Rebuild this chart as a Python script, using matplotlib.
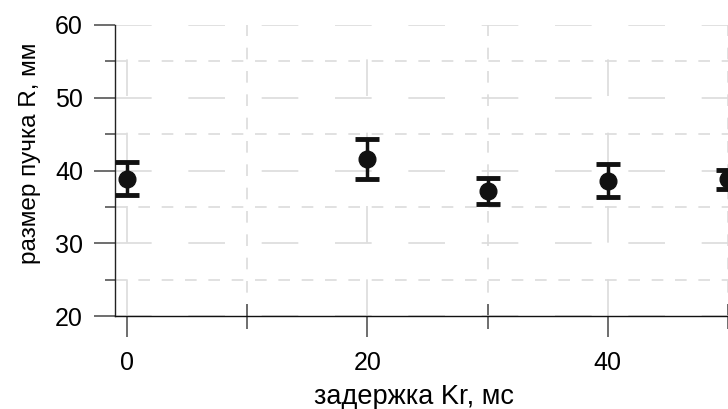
import numpy as np
import matplotlib
matplotlib.use("Agg")
import matplotlib.pyplot as plt
from matplotlib.ticker import MultipleLocator

plt.rcParams['font.family'] = ['Liberation Sans', 'DejaVu Sans']

# Data
delay = [0, 20, 30, 40, 50]
beam_size = [38.9, 41.6, 37.2, 38.6, 38.8]
beam_err = [2.3, 2.7, 1.8, 2.3, 1.3]

x_label = "задержка Kr, мс"
y_label = "размер пучка R, мм"

fig = plt.figure(figsize=(7.28, 4.09), dpi=100)
ax = fig.add_axes([115 / 728, 93 / 409, 1 - 115 / 728, 291 / 409])

ax.set_xlim(-1, 50)
ax.set_ylim(20, 60)

ax.xaxis.set_major_locator(MultipleLocator(20))
ax.xaxis.set_minor_locator(MultipleLocator(10))
ax.yaxis.set_major_locator(MultipleLocator(10))
ax.yaxis.set_minor_locator(MultipleLocator(5))

# grid: long dashes on major, short dashes on minor
ax.grid(which="major", color="#dcdcdc", lw=1.2, ls=(0, (22, 22)))
ax.grid(which="minor", color="#dcdcdc", lw=1.2, ls=(0, (7, 7)))
ax.set_axisbelow(True)

ax.errorbar(delay, beam_size, yerr=beam_err, fmt="o", color="#111111",
            ms=12, elinewidth=2.5, capsize=8.5, capthick=3.5, zorder=3)

for side in ["top", "right"]:
    ax.spines[side].set_visible(False)
ax.spines["left"].set_color("#222222")
ax.spines["bottom"].set_color("#111111")
ax.spines["left"].set_linewidth(1.0)
ax.spines["bottom"].set_linewidth(1.0)

ax.tick_params(which="major", direction="out", length=15, width=1.2,
               color="#555555", labelsize=18, pad=8)
ax.tick_params(axis="x", which="major", pad=10)
ax.tick_params(which="minor", direction="out", length=7, width=1.2,
               color="#555555")
ax.tick_params(axis="x", which="minor", direction="inout", length=18)

ax.set_xlabel(x_label, fontsize=19.5, labelpad=7)
ax.set_ylabel(y_label, fontsize=17.5, labelpad=10)
ax.xaxis.label.set_x(0.488)
ax.yaxis.label.set_y(0.558)

fig.savefig("out.png", dpi=100)
